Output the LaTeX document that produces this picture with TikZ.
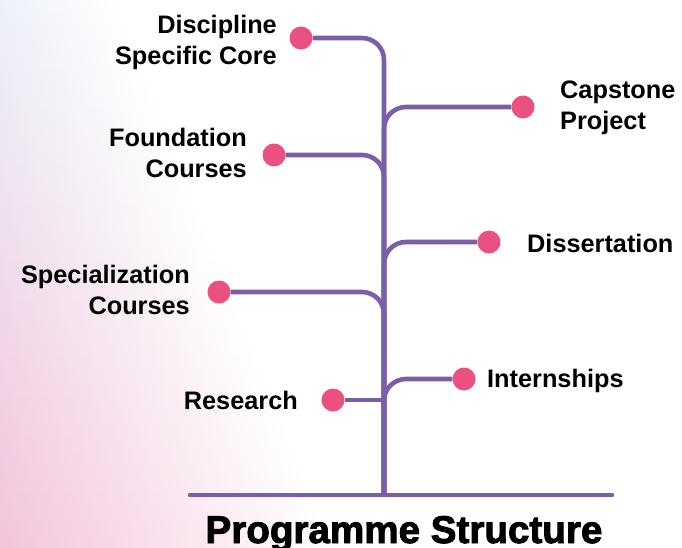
\documentclass[tikz,border=0pt]{standalone}
\usepackage{fontspec}
\setmainfont{Liberation Sans}
\newfontfamily\titlefont{Liberation Sans}[BoldFeatures={FakeBold=2.4}]
\usepackage{xcolor}
\usepackage{tikz}
\usetikzlibrary{backgrounds}
\definecolor{branchpurple}{RGB}{123,94,167}
\definecolor{dotpink}{RGB}{234,80,128}
\definecolor{bgpink}{RGB}{243,196,219}
\definecolor{bgblue}{RGB}{236,241,249}

\begin{document}
\begin{tikzpicture}[
    x=1pt, y=-1pt,
    dot/.style={circle, fill=dotpink, minimum size=23pt, inner sep=0pt},
    branch/.style={draw=branchpurple, line width=4.6pt, rounded corners=22pt},
    lbl/.style={font=\bfseries\fontsize{25.3}{31}\selectfont, inner sep=0pt},
    title/.style={font=\titlefont\bfseries\fontsize{38.6}{40}\selectfont, inner sep=0pt}
]

\useasboundingbox (0,0) rectangle (682,548);

\coordinate (root) at (384,495);
\coordinate (baseL) at (190,495);
\coordinate (baseR) at (612,495);

\node [dot] (dscdot) at (301,38) {};
\node [dot] (founddot) at (274,155) {};
\node [dot] (specdot) at (219,292) {};
\node [dot] (resdot) at (333,400) {};
\node [dot] (capdot) at (523,107) {};
\node [dot] (dissdot) at (489,242) {};
\node [dot] (interndot) at (464,379) {};

\node [lbl, anchor=base east, align=right] (dsc) at (277,65) {Discipline\\Specific Core};
\node [lbl, anchor=base east, align=right] (found) at (247,178) {Foundation\\Courses};
\node [lbl, anchor=base east, align=right] (spec) at (190,314) {Specialization\\Courses};
\node [lbl, anchor=base east] (res) at (298,409) {Research};
\node [lbl, anchor=base west, align=left] (cap) at (560,130) {Capstone\\Project};
\node [lbl, anchor=base west] (diss) at (527,252) {Dissertation};
\node [lbl, anchor=base west] (intern) at (487,387) {Internships};
\node [title, anchor=base] (ttl) at (404,543) {Programme Structure};

\begin{scope}[on background layer]
\fill[white] (0,0) rectangle (682,548);
\foreach \i in {0,...,39} {
  \pgfmathsetmacro{\mix}{100*\i/39}
  \pgfmathsetmacro{\stripw}{120+210*\i/39}
  \colorlet{stripcol}{bgpink!\mix!bgblue}
  \shade[left color=stripcol, right color=white] (0,{13.7*\i-0.5}) rectangle (\stripw,{13.7*(\i+1)+0.5});
}
\draw [branch, line cap=round] (baseL) -- (baseR);
\draw [branch] (dscdot) -| (root);
\draw [branch] (founddot) -| (root);
\draw [branch] (specdot) -| (root);
\draw [branch] (resdot) -- (resdot -| root);
\draw [branch] (root) |- (capdot);
\draw [branch] (root) |- (dissdot);
\draw [branch] (root) |- (interndot);
\end{scope}

\end{tikzpicture}
\end{document}
